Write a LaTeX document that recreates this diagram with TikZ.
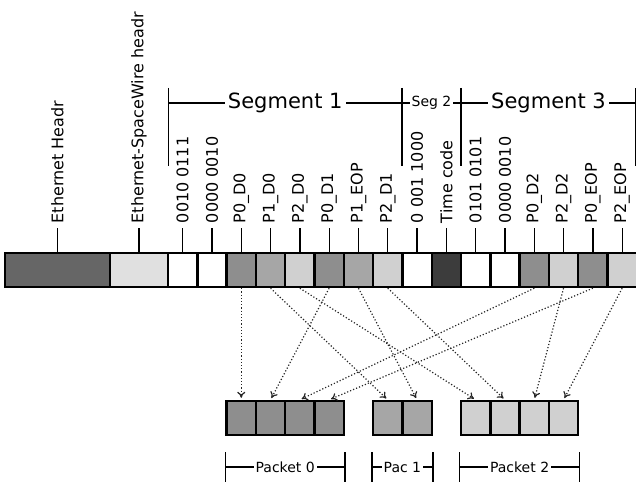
\documentclass[tikz,border=0pt]{standalone}
\usepackage{fontspec}
\setmainfont{DejaVu Sans}
\usetikzlibrary{arrows.meta,positioning}

\definecolor{ethgray}{HTML}{666666}
\definecolor{swgray}{HTML}{E0E0E0}
\definecolor{pzero}{HTML}{8E8E8E}
\definecolor{pone}{HTML}{A6A6A6}
\definecolor{ptwo}{HTML}{D0D0D0}
\definecolor{tcgray}{HTML}{3C3C3C}

\begin{document}
\begin{tikzpicture}[x=1pt,y=-1pt,
  cell/.style={draw=black,line width=2.4pt,minimum width=29.3pt,minimum height=34pt,inner sep=0pt},
  lab/.style={rotate=90,anchor=west,inner sep=4pt,font=\fontsize{16}{19}\selectfont},
  flow/.style={dotted,line width=1.2pt,black!85,-{To[length=6pt,width=8pt]},shorten >=2pt},
  segtext/.style={fill=white,inner sep=3pt,font=\fontsize{21}{25}\selectfont},
  smalltext/.style={fill=white,inner sep=2pt,font=\fontsize{14}{17}\selectfont}]
\useasboundingbox (0,0) rectangle (636,484);

\node[cell,fill=ethgray,minimum width=105pt] (eth) at (57.5,270) {};
\node[cell,fill=swgray,minimum width=58pt] (sw) at (139,270) {};
\draw[line width=1.3pt] (eth.north) -- ++(0,-24) node[lab] {Ethernet Headr};
\draw[line width=1.3pt] (sw.north) -- ++(0,-24) node[lab] {Ethernet-SpaceWire headr};

\foreach \i/\c/\t in {1/white/0010 0111, 2/white/0000 0010, 3/pzero/P0\_D0,
    4/pone/P1\_D0, 5/ptwo/P2\_D0, 6/pzero/P0\_D1, 7/pone/P1\_EOP, 8/ptwo/P2\_D1,
    9/white/0 001 1000, 10/tcgray/Time code, 11/white/0101 0101, 12/white/0000 0010,
    13/pzero/P0\_D2, 14/ptwo/P2\_D2, 15/pzero/P0\_EOP, 16/ptwo/P2\_EOP}
{
  \node[cell,fill=\c] (c\i) at ({168+(\i-0.5)*29.3},270) {};
  \draw[line width=1.3pt] (c\i.north) -- ++(0,-24) node[lab] {\t};
}

\foreach \x in {168.5,402,461,636}
  \draw[line width=1.4pt] (\x,88) -- (\x,166);
\draw[line width=1.4pt] (168.5,103) -- node[segtext] {Segment 1} (402,103)
  -- node[smalltext] {Seg 2} (461,103) -- node[segtext] {Segment 3} (636,103);

\foreach \i/\j in {1/3,2/4,3/5,4/6}
  \node[cell,fill=pzero] (pa\i) at (c\j |- 0,418) {};
\foreach \i/\j in {1/8,2/9}
  \node[cell,fill=pone] (pb\i) at (c\j |- 0,418) {};
\foreach \i/\j in {1/11,2/12,3/13,4/14}
  \node[cell,fill=ptwo] (pc\i) at (c\j |- 0,418) {};

\foreach \a/\b/\t in {pa1/pa4/Packet 0, pb1/pb2/Pac 1, pc1/pc4/Packet 2}
{
  \draw[line width=1.3pt] (\a.west |- 0,452) -- (\a.west |- 0,482);
  \draw[line width=1.3pt] (\b.east |- 0,452) -- (\b.east |- 0,482);
  \draw[line width=1.3pt] (\a.west |- 0,467) -- node[smalltext] {\t} (\b.east |- 0,467);
}

\foreach \s/\d in {c3/pa1, c6/pa2, c13/pa3, c15/pa4, c4/pb1, c7/pb2,
    c5/pc1, c8/pc2, c14/pc3, c16/pc4}
  \draw[flow] (\s.south) -- (\d.north);
\end{tikzpicture}
\end{document}
